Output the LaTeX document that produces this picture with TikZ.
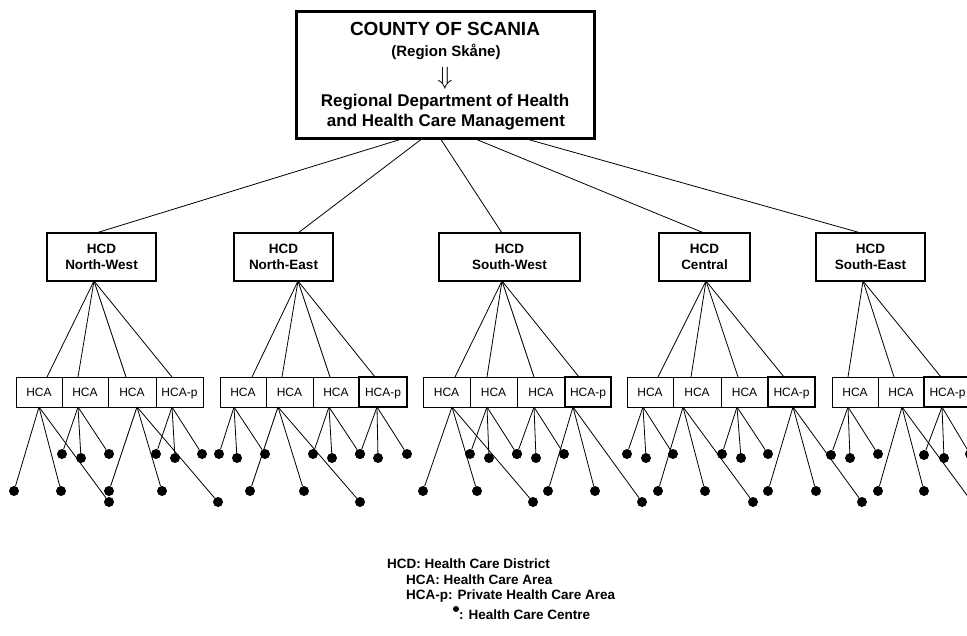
\documentclass[tikz,border=0pt]{standalone}
\usepackage{fontspec}
\setmainfont{Liberation Sans}
\usetikzlibrary{calc}

\tikzset{
  txt/.style={inner sep=0pt, text height=0.72em, text depth=0pt},
  hcd/.style={draw, line width=1.3pt, minimum width={(#1)*1pt}, minimum height=48pt, inner sep=0pt,
    align=center, font=\fontsize{13.5}{16}\selectfont\bfseries},
  hca/.style={draw, line width=1pt, minimum width={(#1)*1pt}, minimum height=30pt, inner sep=0pt,
    text height=8.6pt, text depth=0pt, font=\fontsize{12}{12}\selectfont},
  hcap/.style={hca=#1, line width=2.5pt},
  hcc/.style={circle, fill, inner sep=0pt, minimum size=10pt},
  key/.style={txt, anchor=west, font=\fontsize{13.5}{13.5}\selectfont\bfseries},
  lnk/.style={line width=0.8pt}
}

\begin{document}
\begin{tikzpicture}[x=1pt, y=-1pt]
  \useasboundingbox (0,0) rectangle (967,635);
  \clip (0,0) rectangle (967,635);

  % county / department
  \node[draw, line width=3pt, minimum width=298pt, minimum height=127pt] (county) at (445,74.5) {};
  \node[txt, font=\fontsize{19}{19}\selectfont\bfseries] (county-name) at (445,32) {COUNTY OF SCANIA};
  \node[txt, font=\fontsize{15}{15}\selectfont\bfseries] (county-alt) at (446,53) {(Region Skåne)};
  \node[inner sep=0pt, font=\fontsize{26}{26}\selectfont] (county-arrow) at (445,78) {$\Downarrow$};
  \node[txt, font=\fontsize{17}{17}\selectfont\bfseries] (dept-a) at (445,103) {Regional Department of Health};
  \node[txt, font=\fontsize{17}{17}\selectfont\bfseries] (dept-b) at (446,123) {and Health Care Management};

  % health care districts
  \node[hcd=109] (nw) at (101.5,257) {HCD\\North-West};
  \node[hcd=99]  (ne) at (283.5,257) {HCD\\North-East};
  \node[hcd=141] (sw) at (509.5,257) {HCD\\South-West};
  \node[hcd=91]  (ce) at (704.5,257) {HCD\\Central};
  \node[hcd=109] (se) at (870.5,257) {HCD\\South-East};

  \foreach \dis/\ox/\tx/\bx in {nw/405/96/94, ne/423/298/298, sw/440/502/502, ce/473/704/706, se/523/861/863} {
    \coordinate (\dis-o) at (\ox,138);
    \coordinate (\dis-t) at (\tx,233);
    \coordinate (\dis-b) at (\bx,281);
    \draw[lnk] (\dis-o) -- (\dis-t);
  }

  % health care areas
  \foreach \n/\lx/\rx/\lab in {nw1/16/62/HCA, nw2/62/108/HCA, nw3/108/156/HCA, nw4/156/203/HCA-p,
      ne1/220/266/HCA, ne2/266/313/HCA, ne3/313/359/HCA,
      sw1/423/470/HCA, sw2/470/517/HCA, sw3/517/565/HCA,
      ce1/627/673/HCA, ce2/673/721/HCA, ce3/721/768/HCA,
      se1/832/878/HCA, se2/878/924/HCA}
    \node[hca=\rx-\lx] (\n) at ({(\lx+\rx)/2},392) {\lab};
  \foreach \n/\lx/\rx in {ne4/359/407, sw4/565/611, ce4/768/815, se3/924/971}
    \node[hcap=\rx-\lx] (\n) at ({(\lx+\rx)/2},392) {HCA-p};

  \foreach \dis/\n/\tx/\bx in {nw/nw1/47/39, nw/nw2/78/78, nw/nw3/126/137, nw/nw4/172/172,
      ne/ne1/252/234, ne/ne2/282/278, ne/ne3/330/329, ne/ne4/375/377,
      sw/sw1/455/452, sw/sw2/487/487, sw/sw3/534/534, sw/sw4/579/573,
      ce/ce1/658/643, ce/ce2/691/683, ce/ce3/738/737, ce/ce4/784/793,
      se/se1/848/848, se/se2/894/902, se/se3/941/942} {
    \coordinate (\n-t) at (\tx,377);
    \coordinate (\n-b) at (\bx,407);
    \draw[lnk] (\dis-b) -- (\n-t);
  }

  % health care centres
  \foreach \n/\i/\px/\py in {nw1/1/14/491, nw1/2/61/491, nw1/3/109/502,
      nw2/1/62/454, nw2/2/81/458, nw2/3/109/454,
      nw3/1/109/491, nw3/2/162/491, nw3/3/218/502,
      nw4/1/156/454, nw4/2/175/458, nw4/3/202/454,
      ne1/1/219/454, ne1/2/237/458, ne1/3/265/454,
      ne2/1/250/491, ne2/2/304/491, ne2/3/360/502,
      ne3/1/313/454, ne3/2/332/458, ne3/3/360/454,
      ne4/1/360/454, ne4/2/378/458, ne4/3/407/454,
      sw1/1/423/491, sw1/2/477/491, sw1/3/533/502,
      sw2/1/470/454, sw2/2/489/458, sw2/3/517/454,
      sw3/1/517/454, sw3/2/536/458, sw3/3/564/454,
      sw4/1/548/491, sw4/2/595/491, sw4/3/642/502,
      ce1/1/627/454, ce1/2/646/458, ce1/3/673/454,
      ce2/1/658/491, ce2/2/705/491, ce2/3/753/502,
      ce3/1/722/454, ce3/2/741/458, ce3/3/768/454,
      ce4/1/768/491, ce4/2/816/491, ce4/3/862/502,
      se1/1/831/455, se1/2/850/458, se1/3/878/454,
      se2/1/878/491, se2/2/924/491, se2/3/972/502,
      se3/1/924/455, se3/2/944/458, se3/3/970/454} {
    \node[hcc] (\n-c\i) at (\px,\py) {};
    \draw[lnk] (\n-b) -- (\n-c\i);
  }

  % key
  \node[key] (key-hcd) at (387,565) {HCD: Health Care District};
  \node[key] (key-hca) at (406,581) {HCA: Health Care Area};
  \node[key] (key-hcap) at (406,596) {HCA-p: Private Health Care Area};
  \node[circle, fill, minimum size=6pt, inner sep=0pt] (key-dot) at (456,609) {};
  \node[key] (key-hcc) at (459,616) {: Health Care Centre};
\end{tikzpicture}
\end{document}
